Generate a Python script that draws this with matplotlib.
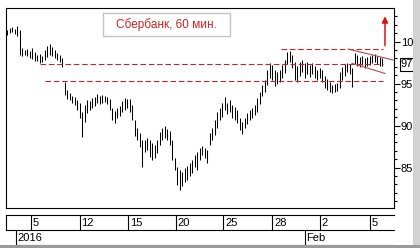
import matplotlib
matplotlib.use("Agg")
import matplotlib.pyplot as plt
from matplotlib.patches import Rectangle
from matplotlib.ticker import MultipleLocator, FixedLocator

plt.rcParams['font.family'] = ['Liberation Sans', 'DejaVu Sans']

# hourly bars, Sberbank, high / low per bar
highs = [101.4, 101.6, 101.7, 101.5, 101.8, 101.4, 99.2, 99.0, 99.1, 98.9,
         99.2, 98.8, 98.4, 98.5, 98.3, 99.0, 99.5, 99.7, 99.3, 99.0,
         98.6, 98.4, 98.0, 95.2, 94.2, 93.9, 93.5, 93.4, 93.0, 92.7,
         91.6, 92.4, 93.0, 92.9, 93.3, 93.4, 93.8, 93.5, 93.6, 93.5,
         93.4, 93.2, 92.1, 91.7, 92.1, 92.3, 92.9, 93.3, 93.2, 93.2,
         92.4, 90.7, 89.7, 89.1, 88.3, 88.3, 88.5, 88.3, 87.9, 87.7,
         88.3, 89.2, 89.7, 89.9, 89.6, 89.3, 88.3, 86.1, 85.1, 84.7,
         84.5, 84.9, 85.2, 85.5, 85.9, 86.5, 86.8, 87.3, 87.6, 87.3,
         87.1, 89.1, 89.7, 90.7, 91.6, 92.1, 92.7, 93.4, 92.7, 93.0,
         92.4, 92.2, 91.8, 90.9, 90.4, 90.9, 91.5, 91.8, 92.1, 92.4,
         93.3, 94.0, 94.8, 95.4, 96.6, 97.4, 97.2, 96.6, 96.4, 96.6,
         97.2, 97.8, 98.8, 98.9, 98.4, 97.6, 97.1, 97.6, 97.8, 97.4,
         97.6, 97.2, 97.4, 97.1, 96.6, 96.8, 96.6, 95.9, 95.5, 95.2,
         94.8, 94.9, 95.1, 96.4, 97.0, 97.3, 97.4, 97.3, 96.8, 98.6,
         98.4, 98.2, 98.3, 98.0, 98.2, 98.3, 98.4, 98.5, 98.3, 98.2,
         98.0]
lows = [100.8, 101.0, 101.1, 100.9, 100.7, 98.4, 98.3, 98.4, 98.3, 98.0,
        97.9, 97.7, 97.7, 97.4, 97.6, 97.8, 98.2, 98.4, 98.3, 98.0,
        97.8, 97.6, 97.0, 93.6, 93.2, 93.0, 92.7, 92.4, 91.8, 90.9,
        88.6, 90.4, 91.5, 91.8, 92.1, 92.3, 92.7, 92.6, 92.7, 92.8,
        92.6, 91.8, 90.7, 90.3, 90.9, 91.1, 91.6, 91.8, 92.1, 91.6,
        90.7, 88.8, 88.3, 87.4, 85.1, 86.8, 87.1, 86.3, 85.9, 86.1,
        86.7, 87.7, 88.3, 88.5, 88.3, 87.7, 85.9, 84.7, 82.9, 82.3,
        82.8, 83.3, 83.5, 84.0, 84.3, 85.1, 84.7, 85.9, 86.5, 86.1,
        85.5, 87.7, 88.3, 88.9, 89.7, 90.7, 91.0, 91.8, 91.4, 91.6,
        90.9, 90.7, 90.3, 89.5, 89.0, 89.7, 90.2, 90.7, 90.9, 91.3,
        91.6, 92.6, 93.5, 94.0, 94.8, 95.7, 95.4, 94.7, 94.9, 95.2,
        95.7, 96.3, 97.3, 97.6, 96.8, 95.4, 95.2, 95.9, 96.4, 95.7,
        96.1, 95.8, 96.1, 95.7, 95.4, 95.7, 95.2, 94.5, 94.2, 94.0,
        93.9, 94.0, 94.1, 94.5, 95.4, 95.9, 96.4, 96.1, 94.6, 97.3,
        97.1, 97.0, 97.2, 96.8, 97.1, 97.2, 97.4, 97.6, 97.3, 97.1,
        97.1]
last_price = 97.3

# bar index where a new labelled day starts
day_pos = [9.5, 29, 48.5, 67.5, 86.5, 106, 125, 145]
day_labels = ['5', '12', '15', '20', '25', '28', '2', '5']
year_pos = [3.5, 119]
year_labels = ['2016', 'Feb']

# support / resistance levels: (price, first bar, last bar)
levels = [(97.3, 13.2, 150.4), (95.3, 15.2, 150.4), (99.1, 109.6, 150.4)]
channel_up = ([136.5, 154.4], [99.1, 97.8])
channel_dn = ([138.0, 151.2], [97.4, 96.2])

fig = plt.figure(figsize=(4.2, 2.48), dpi=100)
fig.patch.set_facecolor('white')

W, H = 420, 248
ax = fig.add_axes([6 / W, 40 / H, 388 / W, 200 / H])
ax.set_xlim(-0.4, 154.8)
ax.set_ylim(80.18, 103.99)

x = list(range(len(highs)))
ax.vlines(x, lows, highs, color='black', lw=0.75)

red = '#b8282e'
for price, x0, x1 in levels:
    ax.plot([x0, x1], [price, price], color=red, lw=0.8, dashes=(5, 2.5))
ax.plot(*channel_up, color='#a85050', lw=0.8)
ax.plot(*channel_dn, color='#a85050', lw=0.8)

ax.annotate('', xy=(151.2, 103.0), xytext=(151.2, 99.5),
            arrowprops=dict(arrowstyle='-|>', color='#dd1111', lw=1.1,
                            mutation_scale=9, shrinkA=0, shrinkB=0))

for s in ax.spines.values():
    s.set_linewidth(0.8)
    s.set_color('black')
ax.yaxis.tick_right()
ax.yaxis.set_major_locator(FixedLocator([85, 90, 95, 100]))
ax.yaxis.set_minor_locator(MultipleLocator(1))
ax.tick_params(axis='y', which='major', length=4, width=0.8, pad=1,
               labelsize=8, colors='black')
ax.tick_params(axis='y', which='minor', length=2.5, width=0.8)
ax.tick_params(axis='x', which='both', bottom=False, labelbottom=False)

ax.annotate('97', xy=(1, last_price), xycoords=('axes fraction', 'data'),
            xytext=(5, 0), textcoords='offset points', va='center', ha='left',
            fontsize=8,
            bbox=dict(boxstyle='square,pad=0.12', fc='white', ec='black', lw=0.8))

# title box
fig.patches.append(Rectangle((103 / W, 1 - 36 / H), 127 / W, 23 / H,
                             transform=fig.transFigure, fc='white',
                             ec='#c4c4c4', lw=1.0))
fig.text(166.5 / W, 1 - 24.5 / H, 'Сбербанк, 60 мин.', color='#cc2222',
         fontsize=8.5, ha='center', va='center')

# date rows
axd = fig.add_axes([6 / W, 3 / H, 388 / W, 30 / H])
axd.set_xlim(ax.get_xlim())
axd.set_ylim(0, 2)
axd.axis('off')
lk = dict(color='black', lw=0.8, clip_on=False)
axd.plot([-0.4, 154.8], [2, 2], **lk)
axd.plot([-0.4, 154.8], [1, 1], **lk)
axd.plot([year_pos[0], 154.8], [0, 0], **lk)
axd.plot([-0.4, -0.4], [1, 2], **lk)
for p, lab in zip(day_pos, day_labels):
    axd.plot([p, p], [1, 2], **lk)
    axd.text(p + 0.8, 1.45, lab, fontsize=8, va='center', ha='left')
for p, lab in zip(year_pos, year_labels):
    axd.plot([p, p], [0, 1], **lk)
    axd.text(p + 0.8, 0.45, lab, fontsize=8, va='center', ha='left')

# window shadow on the right / bottom edge
fig.patches.append(Rectangle((413 / W, 0), 7 / W, 1, transform=fig.transFigure,
                             fc='#d2d2d2', ec='none', zorder=10))
fig.patches.append(Rectangle((0, 0), 1, 3 / H, transform=fig.transFigure,
                             fc='#9a9a9a', ec='none', zorder=10))

fig.savefig('out.png', dpi=100)
